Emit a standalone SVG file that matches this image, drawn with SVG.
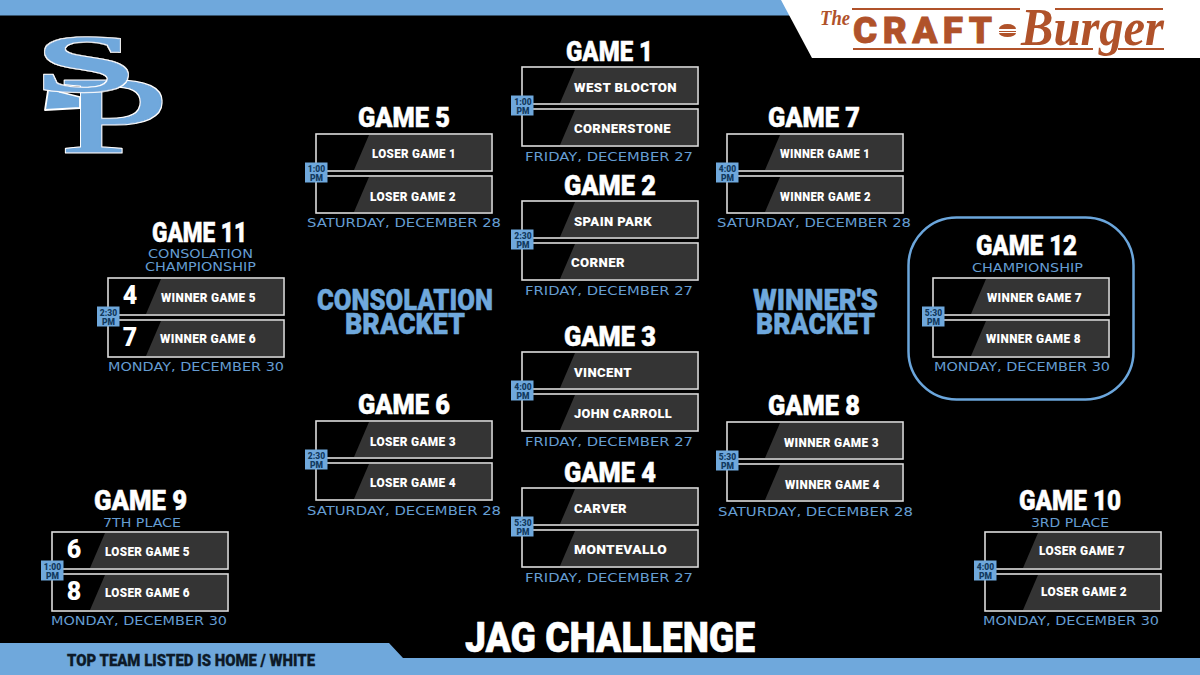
<svg xmlns="http://www.w3.org/2000/svg" width="1200" height="675" viewBox="0 0 1200 675">
<style>
.t{font-family:"Roboto","Liberation Sans",sans-serif;font-weight:900;fill:#fff}
.title{font-size:28px;stroke:#fff;stroke-width:.5px}
.team{font-size:13.5px;letter-spacing:.4px}
.seed{font-size:25px;text-anchor:middle}
.date{font-family:"DejaVu Sans","Liberation Sans",sans-serif;font-size:11.5px;fill:#659dd2}
.time{font-family:"Roboto","Liberation Sans",sans-serif;font-weight:900;font-size:8.5px;fill:#123a5e;text-anchor:middle}
.bk{font-family:"Roboto","Liberation Sans",sans-serif;font-weight:900;font-size:29px;fill:#6fa8dc;stroke:#6fa8dc;stroke-width:.5px}
.box{fill:#000;stroke:#dcdcdc;stroke-width:1.6}
.pn{fill:#343434}
.tb{fill:#6fa8dc}
.rust{fill:#b0522a}
.lb{fill:#6fa8dc;stroke:#6fa8dc;stroke-linejoin:round}
</style>
<defs>
<filter id="outline" x="-10%" y="-10%" width="120%" height="120%">
<feMorphology in="SourceAlpha" operator="dilate" radius="1.300" result="d"/>
<feFlood flood-color="#fff"/>
<feComposite in2="d" operator="in" result="w"/>
<feMerge><feMergeNode in="w"/><feMergeNode in="SourceGraphic"/></feMerge>
</filter>
<g id="matchup">
<rect class="box" x="0" y="0" width="176" height="37"/>
<path class="pn" d="M53 1H175V36H38Z"/>
<rect class="box" x="0" y="42" width="176" height="37"/>
<path class="pn" d="M53 43H175V78H38Z"/>
<rect class="tb" x="-11" y="28.500" width="22.500" height="20"/>
</g>
</defs>
<rect width="1200" height="675" fill="#000"/>
<g id="banner-top">
<rect class="tb" x="0" y="0" width="800" height="15.500"/>
<path d="M781 0H1200V58H812Z" fill="#fff"/>
</g>
<g id="banner-bottom">
<path class="tb" d="M0 643H389L403 658H1200V675H0Z"/>
<text class="t" x="67" y="666" font-size="16" style="fill:#0d1a28;stroke:#0d1a28;stroke-width:.3px" textLength="248" lengthAdjust="spacingAndGlyphs">TOP TEAM LISTED IS HOME / WHITE</text>
</g>
<g id="sponsor">
<rect class="rust" x="852" y="8" width="168" height="2"/>
<rect class="rust" x="1055" y="8" width="108" height="2"/>
<rect class="rust" x="853" y="48" width="240" height="2"/>
<rect class="rust" x="1118" y="48" width="46" height="2"/>
<text class="rust" x="820" y="25" font-family="Liberation Serif" font-style="italic" font-weight="700" font-size="21" textLength="30" lengthAdjust="spacingAndGlyphs">The</text>
<text class="rust" x="853" y="43" font-family="Roboto" font-weight="900" font-size="37" stroke="#b0522a" stroke-width=".8" textLength="139" lengthAdjust="spacing">CRAFT</text>
<path class="rust" d="M999 29a8.500 5 0 0 1 17 0ZM999 31h17v1h-17ZM999 33h17a8.500 4 0 0 1-17 0Z"/>
<text class="rust" x="1021" y="45" font-family="Liberation Serif" font-style="italic" font-weight="700" font-size="52" textLength="143" lengthAdjust="spacingAndGlyphs">Burger</text>
</g>
<g id="school-logo" font-family="Liberation Serif">
<path d="M49 84L60 92L80 97V108L45 110Z" fill="#6fa8dc" stroke="#fff" stroke-width="1.800" stroke-linejoin="round"/>
<g filter="url(#outline)"><text class="lb" transform="translate(60 152) scale(1.95 1.08)" font-size="100" stroke-width="1">P</text></g>
<g filter="url(#outline)"><text class="lb" transform="translate(35 91) scale(2.5 1.13)" font-size="72" font-weight="700" stroke-width=".3">S</text></g>
</g>
<g id="bracket-labels">
<text class="bk" x="317" y="310" textLength="176" lengthAdjust="spacingAndGlyphs">CONSOLATION</text>
<text class="bk" x="345" y="334" textLength="120" lengthAdjust="spacingAndGlyphs">BRACKET</text>
<text class="bk" x="753" y="310" textLength="125" lengthAdjust="spacingAndGlyphs">WINNER'S</text>
<text class="bk" x="756" y="334" textLength="119" lengthAdjust="spacingAndGlyphs">BRACKET</text>
<text class="t" x="465" y="652" font-size="42" stroke="#fff" stroke-width=".6" textLength="290" lengthAdjust="spacingAndGlyphs">JAG CHALLENGE</text>
</g>
<g id="connectors"/>
<g id="game-1"><use href="#matchup" x="522" y="67"/>
<text class="t title" x="566" y="61" textLength="87" lengthAdjust="spacingAndGlyphs">GAME 1</text>
<text class="t team" x="574" y="92" textLength="103" lengthAdjust="spacingAndGlyphs">WEST BLOCTON</text>
<text class="t team" x="574" y="133" textLength="97" lengthAdjust="spacingAndGlyphs">CORNERSTONE</text>
<text class="time" x="523" y="105">1:00</text><text class="time" x="523" y="113.500">PM</text>
<text class="date" x="525" y="161" textLength="168" lengthAdjust="spacingAndGlyphs">FRIDAY, DECEMBER 27</text></g>
<g id="game-2"><use href="#matchup" x="522" y="201"/>
<text class="t title" x="564" y="195" textLength="92" lengthAdjust="spacingAndGlyphs">GAME 2</text>
<text class="t team" x="574" y="226" textLength="78" lengthAdjust="spacingAndGlyphs">SPAIN PARK</text>
<text class="t team" x="571" y="267" textLength="54" lengthAdjust="spacingAndGlyphs">CORNER</text>
<text class="time" x="523" y="239">2:30</text><text class="time" x="523" y="247.500">PM</text>
<text class="date" x="525" y="295" textLength="168" lengthAdjust="spacingAndGlyphs">FRIDAY, DECEMBER 27</text></g>
<g id="game-3"><use href="#matchup" x="522" y="352"/>
<text class="t title" x="564" y="346" textLength="92" lengthAdjust="spacingAndGlyphs">GAME 3</text>
<text class="t team" x="574" y="377" textLength="58" lengthAdjust="spacingAndGlyphs">VINCENT</text>
<text class="t team" x="574" y="418" textLength="98" lengthAdjust="spacingAndGlyphs">JOHN CARROLL</text>
<text class="time" x="523" y="390">4:00</text><text class="time" x="523" y="398.500">PM</text>
<text class="date" x="525" y="446" textLength="168" lengthAdjust="spacingAndGlyphs">FRIDAY, DECEMBER 27</text></g>
<g id="game-4"><use href="#matchup" x="522" y="488"/>
<text class="t title" x="564" y="482" textLength="92" lengthAdjust="spacingAndGlyphs">GAME 4</text>
<text class="t team" x="574" y="513" textLength="53" lengthAdjust="spacingAndGlyphs">CARVER</text>
<text class="t team" x="574" y="554" textLength="93" lengthAdjust="spacingAndGlyphs">MONTEVALLO</text>
<text class="time" x="523" y="526">5:30</text><text class="time" x="523" y="534.500">PM</text>
<text class="date" x="525" y="582" textLength="168" lengthAdjust="spacingAndGlyphs">FRIDAY, DECEMBER 27</text></g>
<g id="game-5"><use href="#matchup" x="316" y="134"/>
<text class="t title" x="358" y="127" textLength="92" lengthAdjust="spacingAndGlyphs">GAME 5</text>
<text class="t team" x="372" y="158" textLength="84" lengthAdjust="spacingAndGlyphs">LOSER GAME 1</text>
<text class="t team" x="370" y="201" textLength="86" lengthAdjust="spacingAndGlyphs">LOSER GAME 2</text>
<text class="time" x="316.500" y="172">1:00</text><text class="time" x="316.500" y="180.500">PM</text>
<text class="date" x="307" y="227" textLength="194" lengthAdjust="spacingAndGlyphs">SATURDAY, DECEMBER 28</text></g>
<g id="game-6"><use href="#matchup" x="316" y="421"/>
<text class="t title" x="358" y="414" textLength="92" lengthAdjust="spacingAndGlyphs">GAME 6</text>
<text class="t team" x="370" y="446" textLength="86" lengthAdjust="spacingAndGlyphs">LOSER GAME 3</text>
<text class="t team" x="370" y="487" textLength="86" lengthAdjust="spacingAndGlyphs">LOSER GAME 4</text>
<text class="time" x="316.500" y="459">2:30</text><text class="time" x="316.500" y="467.500">PM</text>
<text class="date" x="307" y="515" textLength="194" lengthAdjust="spacingAndGlyphs">SATURDAY, DECEMBER 28</text></g>
<g id="game-7"><use href="#matchup" x="727" y="134"/>
<text class="t title" x="768" y="127" textLength="92" lengthAdjust="spacingAndGlyphs">GAME 7</text>
<text class="t team" x="780" y="158" textLength="90" lengthAdjust="spacingAndGlyphs">WINNER GAME 1</text>
<text class="t team" x="780" y="201" textLength="91" lengthAdjust="spacingAndGlyphs">WINNER GAME 2</text>
<text class="time" x="727.500" y="172">4:00</text><text class="time" x="727.500" y="180.500">PM</text>
<text class="date" x="717" y="227" textLength="194" lengthAdjust="spacingAndGlyphs">SATURDAY, DECEMBER 28</text></g>
<g id="game-8"><use href="#matchup" x="727" y="422"/>
<text class="t title" x="768" y="415" textLength="92" lengthAdjust="spacingAndGlyphs">GAME 8</text>
<text class="t team" x="784" y="447" textLength="95" lengthAdjust="spacingAndGlyphs">WINNER GAME 3</text>
<text class="t team" x="785" y="489" textLength="95" lengthAdjust="spacingAndGlyphs">WINNER GAME 4</text>
<text class="time" x="727.500" y="460">5:30</text><text class="time" x="727.500" y="468.500">PM</text>
<text class="date" x="718" y="516" textLength="195" lengthAdjust="spacingAndGlyphs">SATURDAY, DECEMBER 28</text></g>
<g id="game-9"><use href="#matchup" x="52" y="532"/>
<text class="t title" x="94" y="510" textLength="93" lengthAdjust="spacingAndGlyphs">GAME 9</text>
<text class="date" x="103" y="527" textLength="78" lengthAdjust="spacingAndGlyphs">7TH PLACE</text>
<text class="t seed" x="74" y="558">6</text><text class="t seed" x="74" y="600">8</text>
<text class="t team" x="105" y="556" textLength="85" lengthAdjust="spacingAndGlyphs">LOSER GAME 5</text>
<text class="t team" x="105" y="597" textLength="85" lengthAdjust="spacingAndGlyphs">LOSER GAME 6</text>
<text class="time" x="52.500" y="570">1:00</text><text class="time" x="52.500" y="578.500">PM</text>
<text class="date" x="51" y="625" textLength="176" lengthAdjust="spacingAndGlyphs">MONDAY, DECEMBER 30</text></g>
<g id="game-10"><use href="#matchup" x="985" y="532"/>
<text class="t title" x="1019" y="510" textLength="102" lengthAdjust="spacingAndGlyphs">GAME 10</text>
<text class="date" x="1031" y="527" textLength="78" lengthAdjust="spacingAndGlyphs">3RD PLACE</text>
<text class="t team" x="1039" y="555" textLength="86" lengthAdjust="spacingAndGlyphs">LOSER GAME 7</text>
<text class="t team" x="1041" y="596" textLength="86" lengthAdjust="spacingAndGlyphs">LOSER GAME 2</text>
<text class="time" x="985.500" y="570">4:00</text><text class="time" x="985.500" y="578.500">PM</text>
<text class="date" x="983" y="625" textLength="176" lengthAdjust="spacingAndGlyphs">MONDAY, DECEMBER 30</text></g>
<g id="game-11"><use href="#matchup" x="108" y="278"/>
<text class="t title" x="152" y="242" textLength="95" lengthAdjust="spacingAndGlyphs">GAME 11</text>
<text class="date" x="148" y="258" textLength="105" lengthAdjust="spacingAndGlyphs">CONSOLATION</text>
<text class="date" x="145" y="271" textLength="111" lengthAdjust="spacingAndGlyphs">CHAMPIONSHIP</text>
<text class="t seed" x="130" y="304">4</text><text class="t seed" x="130" y="346">7</text>
<text class="t team" x="161" y="302" textLength="95" lengthAdjust="spacingAndGlyphs">WINNER GAME 5</text>
<text class="t team" x="160" y="343" textLength="96" lengthAdjust="spacingAndGlyphs">WINNER GAME 6</text>
<text class="time" x="108.500" y="316">2:30</text><text class="time" x="108.500" y="324.500">PM</text>
<text class="date" x="108" y="371" textLength="176" lengthAdjust="spacingAndGlyphs">MONDAY, DECEMBER 30</text></g>
<g id="game-12"><rect x="908.500" y="217.500" width="225" height="182" rx="48" fill="none" stroke="#6ba6dc" stroke-width="2.500"/>
<use href="#matchup" x="933" y="278"/>
<text class="t title" x="976" y="255" textLength="101" lengthAdjust="spacingAndGlyphs">GAME 12</text>
<text class="date" x="972" y="272" textLength="111" lengthAdjust="spacingAndGlyphs">CHAMPIONSHIP</text>
<text class="t team" x="987" y="302" textLength="95" lengthAdjust="spacingAndGlyphs">WINNER GAME 7</text>
<text class="t team" x="986" y="343" textLength="95" lengthAdjust="spacingAndGlyphs">WINNER GAME 8</text>
<text class="time" x="933.500" y="316">5:30</text><text class="time" x="933.500" y="324.500">PM</text>
<text class="date" x="934" y="371" textLength="176" lengthAdjust="spacingAndGlyphs">MONDAY, DECEMBER 30</text></g>
</svg>
